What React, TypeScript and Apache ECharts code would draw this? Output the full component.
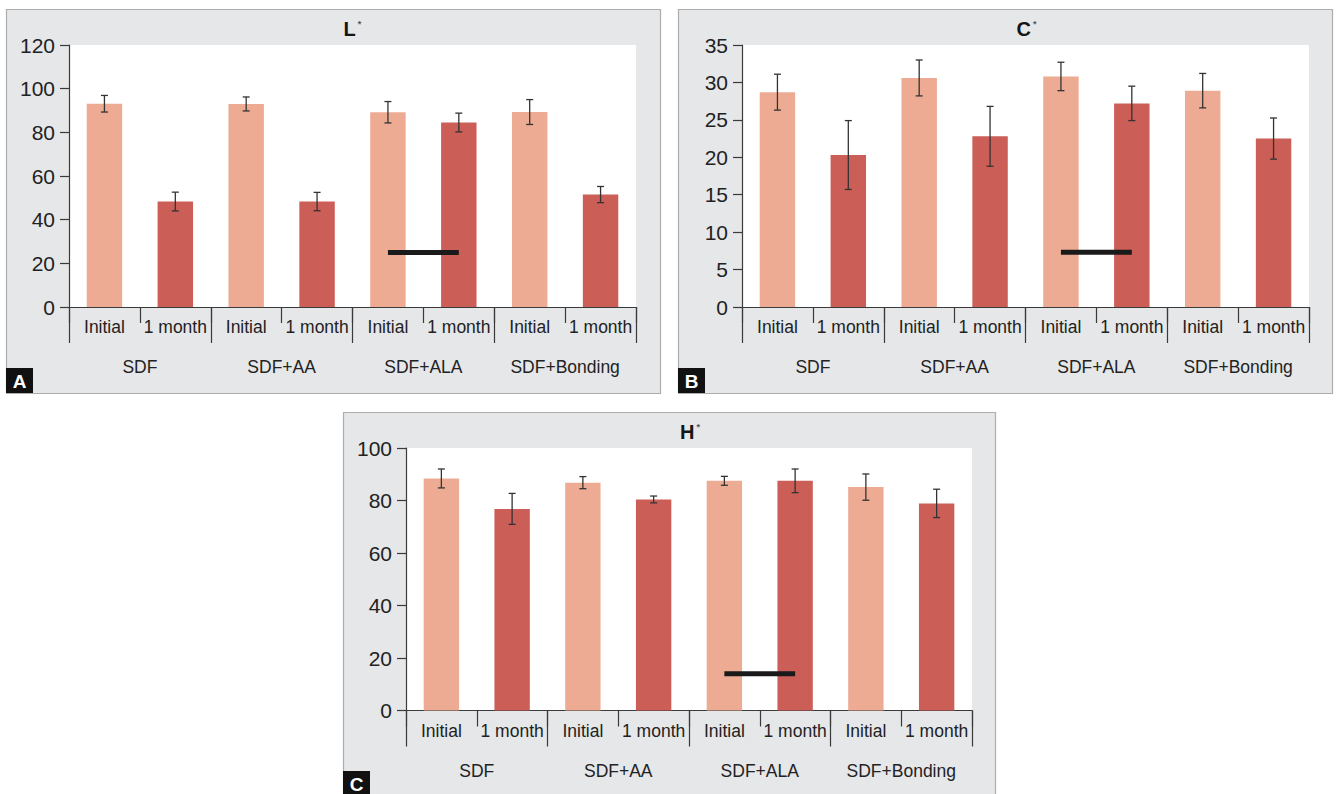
import React, { useEffect, useRef } from "react";
import * as echarts from "echarts";

const groups = ["SDF", "SDF+AA", "SDF+ALA", "SDF+Bonding"];
const subCats = ["Initial", "1 month", "Initial", "1 month", "Initial", "1 month", "Initial", "1 month"];

// Panel A: L*
const lMeans = [93.1, 48.3, 93.0, 48.3, 89.2, 84.5, 89.3, 51.5];
const lErr = [3.8, 4.3, 3.2, 4.2, 4.9, 4.3, 5.7, 3.7];
const lSig = [null, null, null, null, 25, 25, null, null];
const lTicks = { min: 0, max: 120, interval: 20 };

// Panel B: C*
const cMeans = [28.7, 20.3, 30.6, 22.8, 30.8, 27.2, 28.9, 22.5];
const cErr = [2.4, 4.6, 2.4, 4.0, 1.9, 2.3, 2.3, 2.75];
const cSig = [null, null, null, null, 7.3, 7.3, null, null];
const cTicks = { min: 0, max: 35, interval: 5 };

// Panel C: H*
const hMeans = [88.4, 76.8, 86.8, 80.4, 87.5, 87.5, 85.1, 78.9];
const hErr = [3.6, 5.9, 2.3, 1.3, 1.7, 4.5, 5.0, 5.4];
const hSig = [null, null, null, null, 14, 14, null, null];
const hTicks = { min: 0, max: 100, interval: 20 };

const LIGHT = "#EDAB94";
const DARK = "#CB5E57";
const AXIS = "#3a3a3a";
const TXT = "#222";
const SANS = "'Liberation Sans', Arial, sans-serif";

const panels = [
  { title: "L", letter: "A", means: lMeans, err: lErr, sig: lSig, ticks: lTicks,
    box: { x: 6, y: 9, w: 654, h: 384 }, grid: { left: 69, top: 45, width: 567, height: 262 } },
  { title: "C", letter: "B", means: cMeans, err: cErr, sig: cSig, ticks: cTicks,
    box: { x: 678, y: 9, w: 654, h: 384 }, grid: { left: 742, top: 45, width: 567, height: 262 } },
  { title: "H", letter: "C", means: hMeans, err: hErr, sig: hSig, ticks: hTicks,
    box: { x: 343, y: 412, w: 652, h: 384 }, grid: { left: 406, top: 448, width: 566, height: 262.5 } },
];

export default function App() {
  const ref = useRef<HTMLDivElement>(null);
  useEffect(() => {
    if (!ref.current) return;
    const chart = echarts.init(ref.current, undefined, { renderer: "svg" });

    const graphic: any[] = [];
    const title: any[] = [];
    const grid: any[] = [];
    const xAxis: any[] = [];
    const yAxis: any[] = [];
    const series: any[] = [];

    panels.forEach((p, i) => {
      graphic.push({
        type: "rect", z: -10,
        shape: { x: p.box.x + 0.5, y: p.box.y + 0.5, width: p.box.w, height: p.box.h },
        style: { fill: "#E6E7E9", stroke: "#ADADAD", lineWidth: 1.2 },
      });
      graphic.push({
        type: "rect", z: 10,
        shape: { x: p.box.x, y: p.box.y + p.box.h - 25, width: 27, height: 25 },
        style: { fill: "#111" },
      });
      graphic.push({
        type: "text", z: 11,
        x: p.box.x + 13.5, y: p.box.y + p.box.h - 12,
        style: { text: p.letter, fill: "#fff", font: `bold 19px ${SANS}`, textAlign: "center", textVerticalAlign: "middle" },
      });
      title.push({
        text: `{m|${p.title}}{s|*}`,
        left: p.grid.left + p.grid.width / 2 - 9,
        top: p.grid.top - 26,
        padding: 0,
        textStyle: {
          rich: {
            m: { fontSize: 20, fontWeight: "bold", fontFamily: SANS, color: "#151515" },
            s: { fontSize: 9, color: "#555", verticalAlign: "top", padding: [0, 0, 10, 2] },
          },
        },
      });
      grid.push({
        left: p.grid.left, top: p.grid.top, width: p.grid.width, height: p.grid.height,
        show: true, backgroundColor: "#fff", borderWidth: 0,
      });
      xAxis.push({
        type: "category", gridIndex: i, data: subCats, position: "bottom",
        axisLine: { show: true, lineStyle: { color: AXIS, width: 1.2 } },
        axisTick: { show: true, length: 16, lineStyle: { color: AXIS, width: 1.2 } },
        axisLabel: { interval: 0, margin: 11, fontSize: 17.5, fontFamily: SANS, color: TXT },
      });
      xAxis.push({
        type: "category", gridIndex: i, data: groups, position: "bottom", offset: 0,
        axisLine: { show: false },
        axisTick: { show: true, length: 36, lineStyle: { color: AXIS, width: 1.2 } },
        axisLabel: { interval: 0, margin: 51, fontSize: 17.5, fontFamily: SANS, color: TXT },
      });
      yAxis.push({
        type: "value", gridIndex: i, min: p.ticks.min, max: p.ticks.max, interval: p.ticks.interval,
        axisLine: { show: true, lineStyle: { color: AXIS, width: 1.2 } },
        axisTick: { show: true, length: 9, lineStyle: { color: AXIS, width: 1.2 } },
        splitLine: { show: false },
        axisLabel: { fontSize: 21, margin: 14, fontFamily: SANS, color: TXT },
      });
      series.push({
        type: "bar", xAxisIndex: i * 2, yAxisIndex: i, barWidth: "50%",
        data: p.means.map((v, k) => ({ value: v, itemStyle: { color: k % 2 === 0 ? LIGHT : DARK } })),
      });
      series.push({
        type: "custom", xAxisIndex: i * 2, yAxisIndex: i, z: 4,
        encode: { x: 0, y: [1, 2] },
        data: p.means.map((v, k) => [k, v - p.err[k], v + p.err[k]]),
        renderItem: (params: any, api: any) => {
          const x = api.value(0);
          const lo = api.coord([x, api.value(1)]);
          const hi = api.coord([x, api.value(2)]);
          const hw = 3.5;
          const st = { stroke: "#333", lineWidth: 1.3 };
          return {
            type: "group",
            children: [
              { type: "line", shape: { x1: hi[0], y1: hi[1], x2: lo[0], y2: lo[1] }, style: st },
              { type: "line", shape: { x1: hi[0] - hw, y1: hi[1], x2: hi[0] + hw, y2: hi[1] }, style: st },
              { type: "line", shape: { x1: lo[0] - hw, y1: lo[1], x2: lo[0] + hw, y2: lo[1] }, style: st },
            ],
          };
        },
      });
      series.push({
        type: "line", xAxisIndex: i * 2, yAxisIndex: i, z: 5,
        data: p.sig, symbol: "none", connectNulls: false,
        lineStyle: { color: "#1a1a1a", width: 5, cap: "butt" },
      });
    });

    chart.setOption({
      animation: false,
      backgroundColor: "#fff",
      graphic,
      title,
      grid,
      xAxis,
      yAxis,
      series,
    });
    return () => chart.dispose();
  }, []);

  return (
    <div
      ref={ref}
      style={{ position: "absolute", left: 0, top: 0, width: 1337, height: 794 }}
    />
  );
}
